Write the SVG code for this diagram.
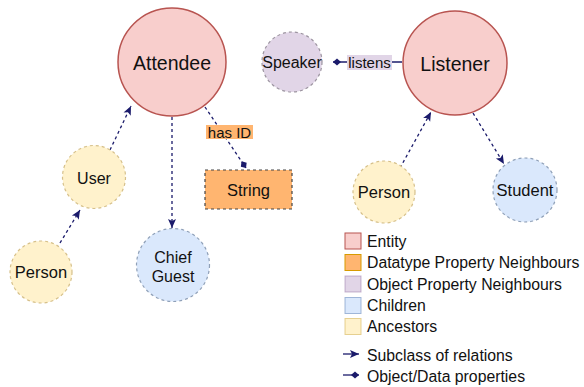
<svg xmlns="http://www.w3.org/2000/svg" width="584" height="387" viewBox="0 0 584 387">
<style>
text{font-family:"Liberation Sans",Arial,sans-serif;fill:#111;text-anchor:middle;dominant-baseline:central}
.entity{fill:#F8CECC;stroke:#B85450;stroke-width:1.5}
.anc{fill:#FFF2CC;stroke:#D6C08A;stroke-width:1.2;stroke-dasharray:3 3}
.child{fill:#DAE8FC;stroke:#8FA0B8;stroke-width:1.2;stroke-dasharray:3 3}
.obj{fill:#E1D5E7;stroke:#9C94A0;stroke-width:1.2;stroke-dasharray:3 3}
.dt{fill:#FFB570;stroke:#444;stroke-width:1.2;stroke-dasharray:3 3}
.sub{stroke:#1B1B6B;stroke-width:1.3;stroke-dasharray:3 3;fill:none}
.prop{stroke:#1B1B6B;stroke-width:1.3;fill:none}
.lt{text-anchor:start;font-size:15.8px}
</style>
<defs>
<marker id="arr" markerUnits="userSpaceOnUse" markerWidth="12" markerHeight="12" viewBox="0 0 12 12" refX="10" refY="6" orient="auto">
<path d="M1,2 L10,6 L1,10 L3,6 Z" fill="#1B1B6B"/>
</marker>
<marker id="dia" markerUnits="userSpaceOnUse" markerWidth="12" markerHeight="12" viewBox="0 0 12 12" refX="10" refY="6" orient="auto">
<path d="M2,6 L6,2.5 L10,6 L6,9.5 Z" fill="#1B1B6B"/>
</marker>
</defs>
<g id="connectors">
<line class="sub" x1="172" y1="117" x2="172" y2="228" marker-end="url(#arr)"/>
<line class="sub" x1="110" y1="150" x2="131" y2="106" marker-end="url(#arr)"/>
<line class="sub" x1="60" y1="243" x2="80" y2="210" marker-end="url(#arr)"/>
<line class="sub" x1="400" y1="168" x2="431" y2="112" marker-end="url(#arr)"/>
<line class="sub" x1="473" y1="113" x2="504" y2="164" marker-end="url(#arr)"/>
<line class="sub" x1="205" y1="107" x2="246" y2="168" marker-end="url(#dia)"/>
<rect x="206" y="125" width="47" height="14" fill="#FFB570"/>
<text x="229.5" y="132" font-size="15">has ID</text>
<line class="prop" x1="402" y1="62" x2="333" y2="62" marker-end="url(#dia)"/>
<rect x="347" y="55" width="45" height="15" fill="#E1D5E7"/>
<text x="369.5" y="62.5" font-size="15">listens</text>
</g>
<g id="attendee"><circle class="entity" cx="172" cy="62" r="54"/><text x="172" y="63" font-size="19.5">Attendee</text></g>
<g id="listener"><circle class="entity" cx="455" cy="63" r="52"/><text x="455" y="64" font-size="19.5">Listener</text></g>
<g id="speaker"><circle class="obj" cx="292" cy="62" r="30"/><text x="292" y="62" font-size="16">Speaker</text></g>
<g id="string"><rect class="dt" x="205" y="170" width="87" height="39"/><text x="248.5" y="189.5" font-size="16.5">String</text></g>
<g id="user"><circle class="anc" cx="94" cy="177" r="31.5"/><text x="94" y="178" font-size="16">User</text></g>
<g id="person-left"><circle class="anc" cx="41" cy="272" r="31"/><text x="41" y="272" font-size="16.5">Person</text></g>
<g id="chief-guest"><circle class="child" cx="173" cy="265" r="36.5"/><text x="173" y="257" font-size="16">Chief</text><text x="173" y="276" font-size="16">Guest</text></g>
<g id="person-right"><circle class="anc" cx="384" cy="192" r="31"/><text x="384" y="192" font-size="16.5">Person</text></g>
<g id="student"><circle class="child" cx="525" cy="190" r="32"/><text x="525" y="190" font-size="16.5">Student</text></g>
<g id="legend">
<rect x="345" y="233" width="16" height="16" fill="#F8CECC" stroke="#B85450"/>
<text class="lt" x="367" y="241">Entity</text>
<rect x="345" y="254.5" width="16" height="16" fill="#FFB570" stroke="#D79B00"/>
<text class="lt" x="367" y="262.5">Datatype Property Neighbours</text>
<rect x="345" y="276" width="16" height="16" fill="#E1D5E7" stroke="#9673A6" stroke-opacity="0.5"/>
<text class="lt" x="367" y="284">Object Property Neighbours</text>
<rect x="345" y="297.5" width="16" height="16" fill="#DAE8FC" stroke="#6C8EBF" stroke-opacity="0.6"/>
<text class="lt" x="367" y="305.5">Children</text>
<rect x="345" y="318.5" width="16" height="16" fill="#FFF2CC" stroke="#D6B656" stroke-opacity="0.6"/>
<text class="lt" x="367" y="326.5">Ancestors</text>
<line class="prop" x1="343" y1="354" x2="359" y2="354" marker-end="url(#arr)"/>
<text class="lt" x="367" y="355">Subclass of relations</text>
<line class="prop" x1="343" y1="375" x2="359" y2="375" marker-end="url(#dia)"/>
<text class="lt" x="367" y="376">Object/Data properties</text>
</g>
</svg>
